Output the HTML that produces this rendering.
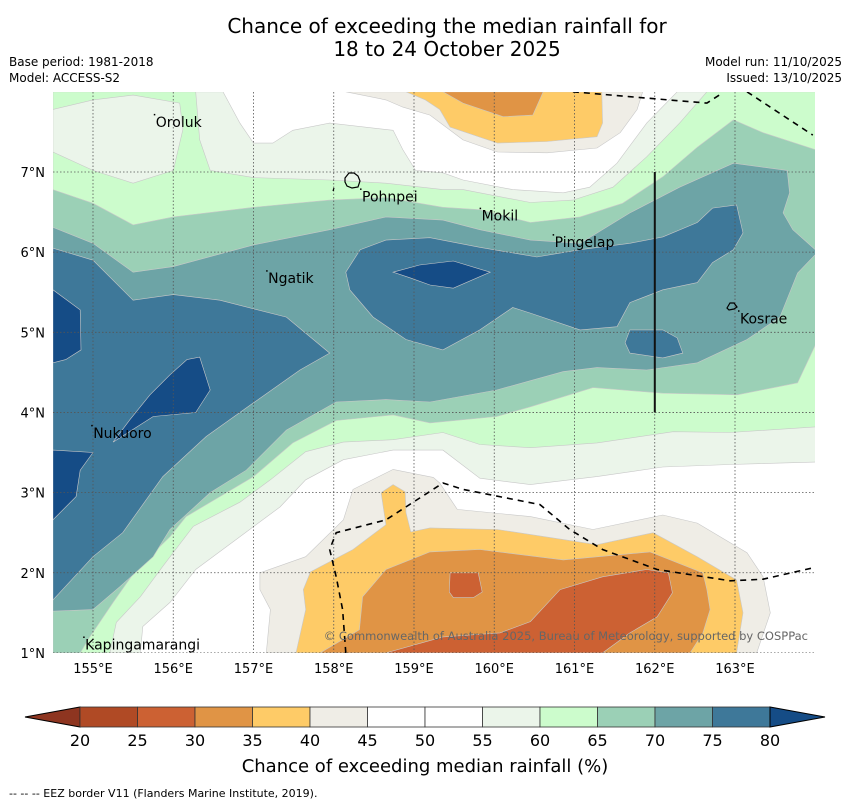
<!DOCTYPE html>
<html><head><meta charset="utf-8"><style>
body{margin:0;background:#fff;width:850px;height:804px;overflow:hidden;font-family:"DejaVu Sans","Liberation Sans",sans-serif}
svg{position:absolute;left:0;top:0;font-family:"DejaVu Sans","Liberation Sans",sans-serif}
</style></head><body>
<svg id="chart" width="850" height="804" viewBox="0 0 850 804">
<defs><clipPath id="mapclip"><rect x="53" y="92" width="762" height="561"/></clipPath></defs>
<g font-size="20" text-anchor="middle" fill="#000">
<text x="447" y="33">Chance of exceeding the median rainfall for</text>
<text x="447" y="56">18 to 24 October 2025</text></g>
<g font-size="12" fill="#000">
<text x="9" y="66">Base period: 1981-2018</text>
<text x="9" y="82">Model: ACCESS-S2</text>
<text x="842" y="66" text-anchor="end">Model run: 11/10/2025</text>
<text x="842" y="82" text-anchor="end">Issued: 13/10/2025</text></g>
<g id="map" clip-path="url(#mapclip)">
<rect x="53" y="92" width="762" height="561" fill="#ffffff"/>
</g>
<g id="axes"></g>
<g id="cbar"></g>
<text x="425" y="772" text-anchor="middle" font-size="18">Chance of exceeding median rainfall (%)</text>
<text x="9" y="797" font-size="11">--  --  -- EEZ border V11 (Flanders Marine Institute, 2019).</text>
</svg>
<script>
// ---- data ----
const lonTicks=[155,156,157,158,159,160,161,162,163];
const latTicks=[1,2,3,4,5,6,7];
const bandEdges=[20,25,30,35,40,45,50,55,60,65,70,75,80];
const bandColors=["#b04a25","#cc6133","#e09445","#fecb67","#efede6","#ffffff","#ffffff","#ebf5ea","#ccfccc","#9bd0b6","#6da4a6","#3e7899"];
const pale55=[[154.5,8],[156.62,8],[156.83,7.61],[157,7.36],[157.24,7.36],[157.49,7.52],[157.95,7.61],[158.74,7.52],[158.86,7.28],[159.02,7.02],[159.36,6.99],[159.61,6.9],[160.23,6.78],[160.86,6.74],[161.19,6.81],[161.53,7.11],[161.9,7.61],[162.28,8],[164,8],[164,3.38],[162.94,3.35],[162.1,3.32],[161.28,3.2],[160.45,3.1],[159.82,3.18],[159.36,3.53],[158.74,3.53],[158.12,3.41],[157.65,3.16],[157.33,2.82],[156.83,2.45],[156.28,2.04],[155.96,1.63],[155.62,1.33],[155.59,1],[154.5,1]];
const green60=[[154.5,8],[156.28,8],[156.33,7.4],[156.46,7.02],[157,6.93],[157.95,6.9],[158.65,6.86],[159.36,6.78],[159.61,6.78],[160.45,6.62],[160.98,6.65],[161.48,6.81],[161.9,7.19],[162.31,7.61],[162.65,8],[164,8],[164,3.82],[162.94,3.75],[162.23,3.76],[161.28,3.62],[160.45,3.56],[159.82,3.6],[159.36,3.75],[158.74,3.66],[158.12,3.63],[157.65,3.51],[157.21,3.16],[156.83,2.88],[156.25,2.58],[155.87,2.08],[155.59,1.7],[155.29,1.38],[155.21,1],[154.5,1]];
const orolukPale=[[154.5,7.78],[155,7.9],[155.5,7.96],[156.08,7.86],[156.12,7.53],[156,7.02],[155.5,6.86],[155,7.02],[154.5,7.25]];
const seagreen65=[[154.5,6.78],[155,6.61],[155.5,6.34],[156,6.44],[157,6.56],[157.95,6.65],[158.65,6.68],[159.36,6.56],[159.82,6.53],[160.45,6.37],[161.07,6.44],[161.6,6.61],[162.1,6.94],[162.53,7.31],[162.98,7.65],[163.35,7.49],[164,7.28],[164,4.84],[163.78,4.37],[163.03,4.22],[162.1,4.24],[161.23,4.31],[160.45,4.07],[160.03,3.95],[159.2,3.87],[158.74,3.97],[158.03,3.9],[157.49,3.62],[157,3.2],[156.58,2.95],[156.16,2.7],[155.96,2.45],[155.54,2.04],[155.25,1.63],[154.96,1.2],[154.84,1],[154.5,1]];
const teal70=[[154.5,6.31],[155,6.11],[155.5,5.75],[156,5.82],[157,6.09],[157.95,6.28],[158.65,6.44],[159.36,6.4],[159.82,6.28],[160.45,6.15],[161.07,6.11],[161.69,6.49],[162.31,6.81],[162.98,7.11],[163.65,7.02],[163.68,6.74],[163.6,6.49],[163.72,6.28],[164,6.03],[164,5.97],[163.78,5.74],[163.56,5.19],[163.15,4.91],[162.53,4.62],[161.9,4.53],[161.28,4.56],[160.86,4.51],[160.03,4.28],[159.2,4.13],[158.65,4.16],[158.03,4.13],[157.41,3.78],[156.91,3.28],[156.46,3],[155.96,2.54],[155.75,2.2],[155.34,1.83],[155,1.54],[154.5,1.52]];
const blue75West=[[154.5,6.05],[155,5.9],[155.5,5.4],[156,5.47],[156.58,5.4],[157.41,5.19],[157.95,4.74],[157.58,4.53],[157,4.12],[156.41,3.7],[155.87,3.2],[155.37,2.5],[155,2.2],[154.5,1.66]];
const blue75Central=[[158.15,5.75],[158.33,6.03],[158.65,6.15],[159.2,6.18],[159.82,6.06],[160.53,5.94],[161.07,6.03],[161.69,6.11],[162.1,6.19],[162.53,6.37],[162.72,6.55],[163.02,6.59],[163.1,6.24],[162.98,6.03],[162.72,5.87],[162.53,5.62],[162.1,5.53],[161.69,5.37],[161.53,5.07],[161.07,5.03],[160.45,5.24],[160.23,5.31],[159.82,5.03],[159.36,4.78],[158.9,4.91],[158.49,5.19],[158.2,5.53]];
const blue75Small=[[161.69,5.03],[162.1,5.03],[162.28,4.93],[162.35,4.74],[162.1,4.68],[161.69,4.74],[161.63,4.87]];
const dark80Central=[[158.74,5.75],[159.07,5.84],[159.49,5.89],[159.95,5.75],[159.49,5.55],[159.2,5.59],[158.95,5.68]];
const dark80WestTop=[[154.5,5.53],[154.84,5.28],[154.85,4.78],[154.66,4.66],[154.5,4.62]];
const dark80Nukuoro=[[156.17,4.66],[156.33,4.69],[156.46,4.28],[156.28,4.0],[155.75,3.95],[155.25,3.63],[155.46,3.91],[155.71,4.22],[155.96,4.47]];
const dark80WestBottom=[[154.5,3.53],[155,3.5],[154.84,3.28],[154.79,2.95],[154.5,2.66]];
const beige45South=[[157.16,1],[157.21,1.54],[157.08,1.79],[157.08,2],[157.65,2.2],[158.12,2.66],[158.24,3.04],[158.74,3.29],[159.24,3.19],[159.32,3.12],[159.54,2.79],[160.45,2.7],[161.23,2.54],[162.1,2.72],[162.53,2.62],[163.15,2.25],[163.35,1.95],[163.44,1.5],[163.27,1]];
const yellow40South=[[157.53,1],[157.65,1.54],[157.62,1.79],[157.71,2.01],[158.24,2.29],[158.65,2.6],[158.59,3],[158.74,3.1],[158.89,3.01],[158.9,2.75],[158.96,2.51],[159.2,2.56],[160.04,2.54],[161.28,2.35],[161.98,2.5],[162.53,2.2],[163.02,1.91],[163.1,1.5],[163.02,1]];
const orange35South=[[157.83,1],[158.32,1.29],[158.36,1.7],[158.65,2.04],[159.2,2.26],[159.82,2.29],[160.86,2.16],[161.94,2.26],[162.6,2],[162.65,1.79],[162.69,1.54],[162.6,1.25],[162.44,1]];
const rust30South=[[158.65,1],[159.36,1.2],[160.07,1.25],[160.45,1.39],[160.82,1.79],[161.35,1.95],[161.9,2.04],[162.17,2],[162.22,1.75],[162.03,1.45],[161.69,1.25],[161.35,1]];
const rust30Small=[[159.45,2],[159.8,2],[159.85,1.76],[159.74,1.69],[159.49,1.69],[159.44,1.76]];
const beige45North=[[158.15,8],[158.65,7.9],[158.86,7.81],[159.2,7.71],[159.61,7.4],[160.04,7.25],[160.66,7.24],[161.28,7.3],[161.57,7.49],[161.78,7.78],[161.85,8]];
const yellow40North=[[158.9,8],[159.14,7.9],[159.32,7.78],[159.45,7.56],[160.04,7.36],[160.66,7.38],[161.28,7.44],[161.35,7.61],[161.34,8]];
const orange35North=[[159.36,8],[159.61,7.86],[160.11,7.69],[160.48,7.71],[160.61,8]];
const eezNorthA=[[160.98,8],[161.69,7.94],[162.65,7.86],[162.85,7.99]];
const eezNorthB=[[163.15,8],[163.97,7.46]];
const eezSouth=[[158.15,1],[158.11,1.54],[158.03,1.95],[157.95,2.29],[158.03,2.5],[158.65,2.66],[159.36,3.12],[159.61,3.04],[160.57,2.85],[160.94,2.54],[161.35,2.29],[162.03,2.04],[162.94,1.9],[163.35,1.92],[163.97,2.06]];
const sectionLine=[[162,7],[162,4]];
const placeNames=["Oroluk","Pohnpei","Mokil","Pingelap","Ngatik","Kosrae","Nukuoro","Kapingamarangi"];
const placeLon=[155.77,158.34,159.83,160.74,157.17,163.05,154.99,154.89];
const placeLat=[7.7,6.77,6.53,6.2,5.75,5.25,3.82,1.18];

// ---- axes ----
const X=lon=>93+(lon-155)*80.25;
const Y=lat=>172-(lat-7)*80.15;
const NS='http://www.w3.org/2000/svg';
function mk(tag,attrs,parent){const e=document.createElementNS(NS,tag);for(const k in attrs)e.setAttribute(k,attrs[k]);parent.appendChild(e);return e;}
const pts=a=>a.map(p=>X(p[0]).toFixed(1)+','+Y(p[1]).toFixed(1)).join(' ');
const map=document.getElementById('map');
const layers=[
 ["band-55-60",pale55,"#ebf5ea"],["band-60-65",green60,"#ccfccc"],["oroluk-55-60",orolukPale,"#ebf5ea"],
 ["band-65-70",seagreen65,"#9bd0b6"],["band-70-75",teal70,"#6da4a6"],
 ["band-75-80-west",blue75West,"#3e7899"],["band-75-80-central",blue75Central,"#3e7899"],["band-75-80-small",blue75Small,"#3e7899"],
 ["band-80-central",dark80Central,"#154c86"],["band-80-west-top",dark80WestTop,"#154c86"],["band-80-nukuoro",dark80Nukuoro,"#154c86"],["band-80-west-bottom",dark80WestBottom,"#154c86"],
 ["band-40-45-south",beige45South,"#efede6"],["band-35-40-south",yellow40South,"#fecb67"],["band-30-35-south",orange35South,"#e09445"],
 ["band-25-30-south",rust30South,"#cc6133"],["band-25-30-small",rust30Small,"#cc6133"],
 ["band-40-45-north",beige45North,"#efede6"],["band-35-40-north",yellow40North,"#fecb67"],["band-30-35-north",orange35North,"#e09445"]
];
layers.forEach(L=>{
 const e=mk('polygon',{points:pts(L[1]),fill:L[2],stroke:'#c8c8c8','stroke-width':0.6},map);
 
 
});
lonTicks.forEach(l=>{const e=mk('line',{x1:X(l),x2:X(l),y1:92,y2:653,stroke:'#555','stroke-width':0.8,'stroke-dasharray':'1.5,2'},map);
 
 });
latTicks.forEach(l=>{const e=mk('line',{x1:53,x2:815,y1:Y(l),y2:Y(l),stroke:'#555','stroke-width':0.8,'stroke-dasharray':'1.5,2'},map);
 
 });
[["eez-border-north-a",eezNorthA],["eez-border-north-b",eezNorthB],["eez-border-south",eezSouth]].forEach(E=>{
 const e=mk('polyline',{points:pts(E[1]),fill:'none',stroke:'#000','stroke-width':1.6,'stroke-dasharray':'6,5'},map);
 
 
});
const sl=mk('polyline',{points:pts(sectionLine),fill:'none',stroke:'#111','stroke-width':2},map);


const pohn=mk('path',{d:'M345 178 l4 -5 l5 0 l4 3 l2 5 l-2 6 l-6 1 l-5 -2 l-2 -4z M334 188 l-1 3',fill:'none',stroke:'#000','stroke-width':1.2},map);


const kos=mk('path',{d:'M727 308 l3 -5 l4 0 l3 4 l-3 2 l-5 1z',fill:'none',stroke:'#000','stroke-width':1.2},map);


placeNames.forEach((n,i)=>{
 const x=X(placeLon[i]),y=Y(placeLat[i]);
 const d=mk('rect',{x:x-1,y:y-2,width:1.5,height:1.5,fill:'#000'},map);
 
 
 const t=mk('text',{x:x+1,y:y+11,'font-size':14,fill:'#000'},map);t.textContent=n;
 
 
});
const cr=mk('text',{x:808,y:640,'font-size':11.5,fill:'#666','text-anchor':'end'},map);
cr.textContent='© Commonwealth of Australia 2025, Bureau of Meteorology, supported by COSPPac';


const ax=document.getElementById('axes');
lonTicks.forEach(l=>{const t=mk('text',{x:X(l),y:673,'font-size':13,'text-anchor':'middle'},ax);t.textContent=l+'°E';
 
 });
latTicks.forEach(l=>{const t=mk('text',{x:45,y:Y(l)+5,'font-size':13,'text-anchor':'end'},ax);t.textContent=l+'°N';
 
 });
const cb=document.getElementById('cbar');
const cx0=80,cw=57.5,cy=707,ch=20;
const lt=mk('polygon',{points:`${cx0},${cy} ${cx0},${cy+ch} 25,${cy+ch/2}`,fill:'#8e3520',stroke:'#000','stroke-width':1},cb);


bandColors.forEach((c,i)=>{const r=mk('rect',{x:cx0+i*cw,y:cy,width:cw,height:ch,fill:c,stroke:'#333','stroke-width':0.8},cb);
 
 });
const xe=cx0+bandColors.length*cw;
const rt=mk('polygon',{points:`${xe},${cy} ${xe},${cy+ch} ${xe+55},${cy+ch/2}`,fill:'#154c86',stroke:'#000','stroke-width':1},cb);


bandEdges.forEach((v,i)=>{const t=mk('text',{x:cx0+i*cw,y:746,'font-size':16,'text-anchor':'middle'},cb);t.textContent=v;
 
 });
</script>
</body></html>
